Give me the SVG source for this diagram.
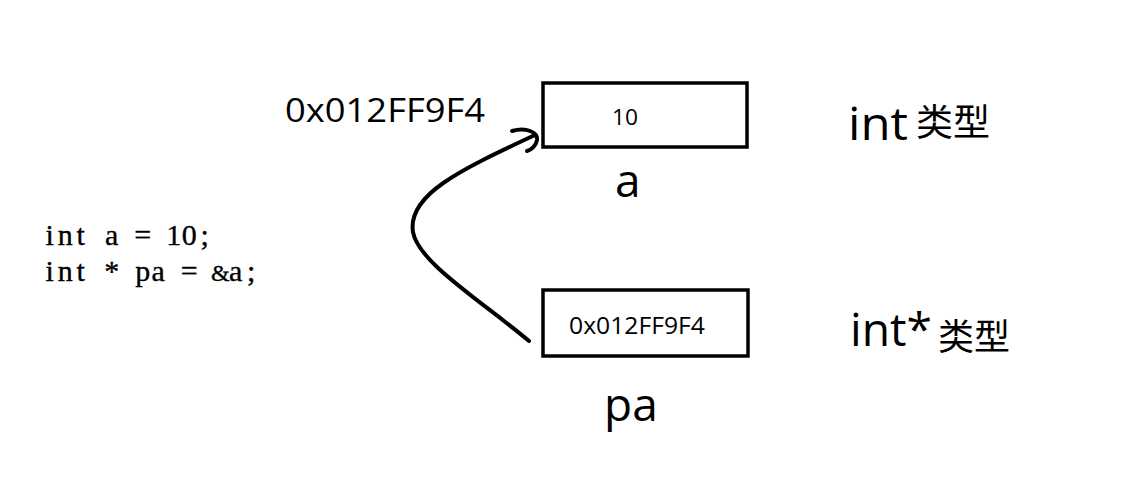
<svg xmlns="http://www.w3.org/2000/svg" width="1143" height="498" viewBox="0 0 1143 498">
<style>
.box{fill:#fff;stroke:#000;stroke-width:3.5}
.sans{font-family:"Open Sans","Noto Sans CJK SC",sans-serif;fill:#000}
.cjk{font-family:"Noto Sans CJK SC",sans-serif;fill:#000}
.code{font-family:"Liberation Serif","Noto Sans CJK SC",serif;fill:#000;font-size:30px;text-anchor:middle;stroke:#000;stroke-width:0.35}
.wire{fill:none;stroke:#000;stroke-width:4;stroke-linecap:round;stroke-linejoin:round}
</style>
<rect width="1143" height="498" fill="#fff"/>
<g id="code">
<text class="code" y="245" x="49.75 65.25 80.75 96.25 111.75 127.25 142.75 158.25 173.75 189.25 204.75" xml:space="preserve">int a = 10;</text>
<text class="code" y="281" x="49.75 65.25 80.75 96.25 111.75 127.25 142.75 158.25 173.75 189.25 204.75 220.25 235.75 251.25" xml:space="preserve">int * pa = <tspan font-size="24">&amp;</tspan>a;</text>
</g>
<g id="addr-label">
<text class="sans" x="285" y="122" font-size="33" textLength="200" lengthAdjust="spacingAndGlyphs">0x012FF9F4</text>
</g>
<g id="node-a">
<rect class="box" x="543" y="83" width="204" height="64"/>
<text class="sans" x="612" y="125" font-size="22" textLength="26" lengthAdjust="spacingAndGlyphs">10</text>
<text class="sans" x="615" y="197" font-size="46">a</text>
</g>
<g id="node-pa">
<rect class="box" x="543" y="290" width="205" height="66"/>
<text class="sans" x="569" y="334" font-size="23" textLength="136" lengthAdjust="spacingAndGlyphs">0x012FF9F4</text>
<text class="sans" x="604" y="421" font-size="46">pa</text>
</g>
<g id="type-a">
<text class="sans" x="848" y="140" font-size="46" textLength="60" lengthAdjust="spacingAndGlyphs">int</text>
<text class="cjk" x="916" y="136" font-size="37">类型</text>
</g>
<g id="type-pa">
<text class="sans" x="850" y="346" font-size="46" textLength="82" lengthAdjust="spacingAndGlyphs">int*</text>
<text class="cjk" x="938" y="350" font-size="36">类型</text>
</g>
<g id="connectors">
<path class="wire" d="M 529 341 C 480 300, 418 262, 413 232 C 407 195, 460 170, 535 135"/>
<path class="wire" d="M 512 131 C 526 127, 538 132, 537 140 C 536 146, 531 150, 527 151"/>
</g>
</svg>
